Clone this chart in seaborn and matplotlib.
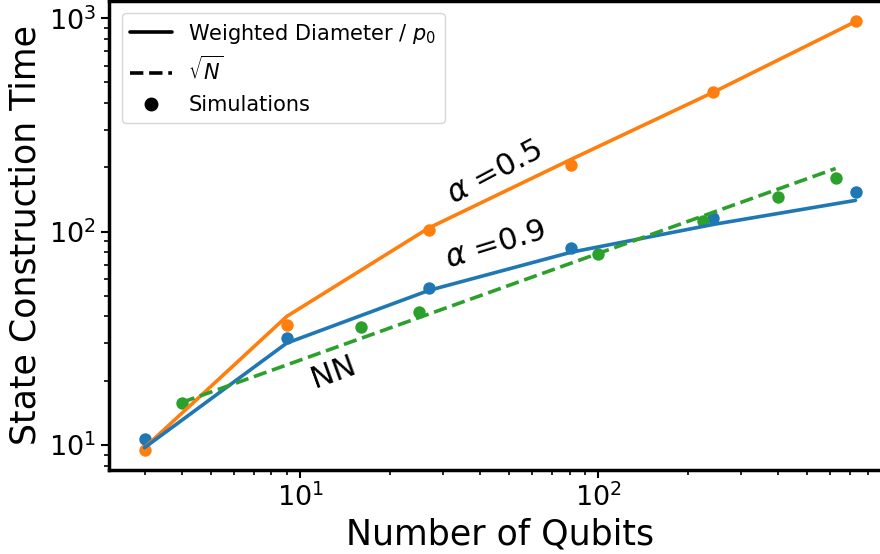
import numpy as np
import pandas as pd
import seaborn as sns
from matplotlib import pyplot as plt
from matplotlib.lines import Line2D

sns.set_style('ticks')
plt.rcParams.update({'text.color': 'black', 'axes.labelcolor': 'black',
                     'xtick.color': 'black', 'ytick.color': 'black'})
colors = sns.color_palette('tab10')

# qubit counts
n_pow3 = [3, 9, 27, 81, 243, 729]
n_sq = [4, 16, 25, 100, 225, 400, 625]

# alpha = 0.5
a05_theory = [9.7, 40, 104, 218, 450, 965]
a05_sim = [9.5, 36.5, 102, 206, 450, 968]
# alpha = 0.9
a09_theory = [9.7, 30, 53, 80, 108, 140]
a09_sim = [10.6, 31.8, 54.6, 84, 116, 154]
# nearest neighbour
nn_sqrt = [15.8, 31.6, 39.5, 79.0, 118.5, 158.0, 197.5]
nn_sim = [15.7, 35.8, 42.1, 78.9, 111.7, 145, 178.6]

fig = plt.figure(figsize=(8.8, 5.54), dpi=100)
ax = fig.add_axes([0.1239, 0.1516, 0.8886, 0.847])

sns.lineplot(x=n_pow3, y=a05_theory, color=colors[1], lw=2.6, ax=ax)
sns.lineplot(x=n_pow3, y=a09_theory, color=colors[0], lw=2.6, ax=ax)
sns.lineplot(x=n_sq, y=nn_sqrt, color=colors[2], lw=2.6, ax=ax)
ax.lines[-1].set_linestyle((0, (3.7, 1.6)))
sns.scatterplot(x=n_pow3, y=a05_sim, color=colors[1], s=80, linewidth=0, ax=ax)
sns.scatterplot(x=n_pow3, y=a09_sim, color=colors[0], s=80, linewidth=0, ax=ax)
sns.scatterplot(x=n_sq, y=nn_sim, color=colors[2], s=80, linewidth=0, ax=ax)

ax.set_xscale('log')
ax.set_yscale('log')
ax.set_xlim(2.28, 959)
ax.set_ylim(7.62, 1208)

ax.set_xlabel('Number of Qubits', fontsize=25)
ax.set_ylabel('State Construction Time', fontsize=25)
ax.tick_params(axis='both', which='major', labelsize=19.5, width=1.5, length=6)
ax.tick_params(axis='both', which='minor', width=1.2, length=3.5)
for s in ax.spines.values():
    s.set_linewidth(2.5)
    s.set_color('black')

ax.text(45, 190, r'$\alpha$ =0.5', fontsize=22, rotation=28, ha='center', va='center')
ax.text(45, 87, r'$\alpha$ =0.9', fontsize=22, rotation=17, ha='center', va='center')
ax.text(12.9, 22, 'NN', fontsize=22, rotation=20, ha='center', va='center')

handles = [Line2D([0], [0], color='black', lw=2.6),
           Line2D([0], [0], color='black', lw=2.6, ls=(0, (3.7, 1.6))),
           Line2D([0], [0], color='black', marker='o', ls='none', markersize=9)]
labels = ['Weighted Diameter / $p_0$', r'$\sqrt{N}$', 'Simulations']
ax.legend(handles, labels, loc='upper left', fontsize=15, borderaxespad=0.6)

fig.savefig('out.png', dpi=100)
